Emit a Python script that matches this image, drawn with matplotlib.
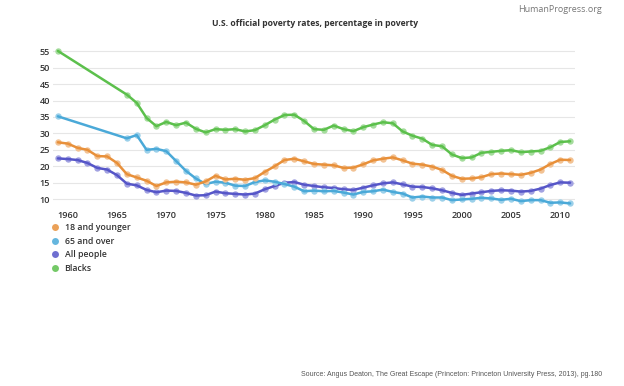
import numpy as np
import matplotlib.pyplot as plt
from matplotlib.lines import Line2D
from matplotlib.colors import to_rgb

# US official poverty rates (%), 1959-2011
years = list(range(1959, 2012))
years_gap = [1959] + list(range(1966, 2012))

young = [27.3, 26.9, 25.6, 25.0, 23.1, 23.0, 21.0, 17.6, 16.6, 15.6, 14.0,
         15.1, 15.3, 15.1, 14.4, 15.4, 17.1, 16.0, 16.2, 15.9, 16.4, 18.3,
         20.0, 21.9, 22.3, 21.5, 20.7, 20.5, 20.3, 19.5, 19.6, 20.6, 21.8,
         22.3, 22.7, 21.8, 20.8, 20.5, 19.9, 18.9, 17.1, 16.2, 16.3, 16.7,
         17.6, 17.8, 17.6, 17.4, 18.0, 19.0, 20.7, 22.0, 21.9]
old = [35.2, 28.5, 29.5, 25.0, 25.3, 24.6, 21.6, 18.6, 16.3, 14.6, 15.3,
       15.0, 14.1, 14.0, 15.2, 15.7, 15.3, 14.6, 13.8, 12.4, 12.6, 12.4,
       12.5, 12.0, 11.4, 12.2, 12.4, 12.9, 12.2, 11.7, 10.5, 10.8, 10.5,
       10.5, 9.7, 9.9, 10.1, 10.4, 10.2, 9.8, 10.1, 9.4, 9.7, 9.7, 8.9,
       9.0, 8.7]
everyone = [22.4, 22.2, 21.9, 21.0, 19.5, 19.0, 17.3, 14.7, 14.2, 12.8, 12.1,
            12.6, 12.5, 11.9, 11.1, 11.2, 12.3, 11.8, 11.6, 11.4, 11.7, 13.0,
            14.0, 15.0, 15.2, 14.4, 14.0, 13.6, 13.4, 13.0, 12.8, 13.5, 14.2,
            14.8, 15.1, 14.5, 13.8, 13.7, 13.3, 12.7, 11.9, 11.3, 11.7, 12.1,
            12.5, 12.7, 12.6, 12.3, 12.5, 13.2, 14.3, 15.1, 15.0]
blacks = [55.1, 41.8, 39.3, 34.7, 32.2, 33.5, 32.5, 33.3, 31.4, 30.3, 31.3,
          31.1, 31.3, 30.6, 31.0, 32.5, 34.2, 35.6, 35.7, 33.8, 31.3, 31.1,
          32.4, 31.3, 30.7, 31.9, 32.7, 33.4, 33.1, 30.6, 29.3, 28.4, 26.5,
          26.1, 23.6, 22.5, 22.7, 24.1, 24.4, 24.7, 24.9, 24.3, 24.5, 24.7,
          25.8, 27.4, 27.6]

series = [
    ("18 and younger", years, young, "#e8903a"),
    ("65 and over", years_gap, old, "#4aa9d8"),
    ("All people", years, everyone, "#5656c8"),
    ("Blacks", years_gap, blacks, "#5cc04c"),
]


def tint(c, f=0.45):
    r, g, b = to_rgb(c)
    return (r + (1 - r) * f, g + (1 - g) * f, b + (1 - b) * f)


fig = plt.figure(figsize=(6.24, 3.86), dpi=100)
ax = fig.add_axes([53 / 624, 1 - 209 / 386, (575 - 53) / 624, (209 - 48) / 386])

for i, (name, xs, ys, col) in enumerate(series[::-1]):
    ax.plot(xs, ys, ls="none", marker="o", markersize=4.6, color=tint(col),
            markeredgecolor="none", zorder=2 + 2 * i)
    ax.plot(xs, ys, color=col, lw=1.8, zorder=3 + 2 * i,
            solid_joinstyle="round", solid_capstyle="round")

ax.set_xlim(1958.5, 2011.5)
ax.set_ylim(7, 56)
ax.set_yticks(range(10, 60, 5))
ax.set_xticks(range(1960, 2011, 5))
ax.grid(axis="y", color="#e6e6e6", lw=0.8)
ax.set_axisbelow(True)
for s in ax.spines.values():
    s.set_visible(False)
ax.tick_params(length=0, labelsize=6.6, labelcolor="#333333", pad=2)
ax.tick_params(axis="x", pad=1.2)
for lab in ax.get_xticklabels() + ax.get_yticklabels():
    lab.set_fontweight("semibold")
    lab.set_family("Open Sans")

fig.text(315 / 624, 1 - 23 / 386, "U.S. official poverty rates, percentage in poverty",
         ha="center", va="center", fontsize=6.2, fontweight="bold",
         color="#333333", family="Open Sans")
fig.text(602 / 624, 1 - 10 / 386, "HumanProgress.org", ha="right", va="center",
         fontsize=6.5, color="#777777", family="Open Sans")
fig.text(602 / 624, 1 - 374 / 386,
         "Source: Angus Deaton, The Great Escape (Princeton: Princeton University Press, 2013), pg.180",
         ha="right", va="center", fontsize=5.0, color="#555555", family="Liberation Sans")

handles = [Line2D([], [], ls="none", marker="o", markersize=5.0, color=tint(c, 0.15),
                  markeredgecolor="none") for _, _, _, c in series]
leg = fig.legend(handles, [s[0] for s in series], loc="upper left",
                 bbox_to_anchor=(51 / 624, 1 - 223.5 / 386), frameon=False,
                 handlelength=0.8, handletextpad=0.75, labelspacing=0.5,
                 borderaxespad=0, borderpad=0,
                 prop={"family": "Open Sans", "weight": "semibold", "size": 6.3})
for t in leg.get_texts():
    t.set_color("#333333")

fig.savefig("out.png", dpi=100)
